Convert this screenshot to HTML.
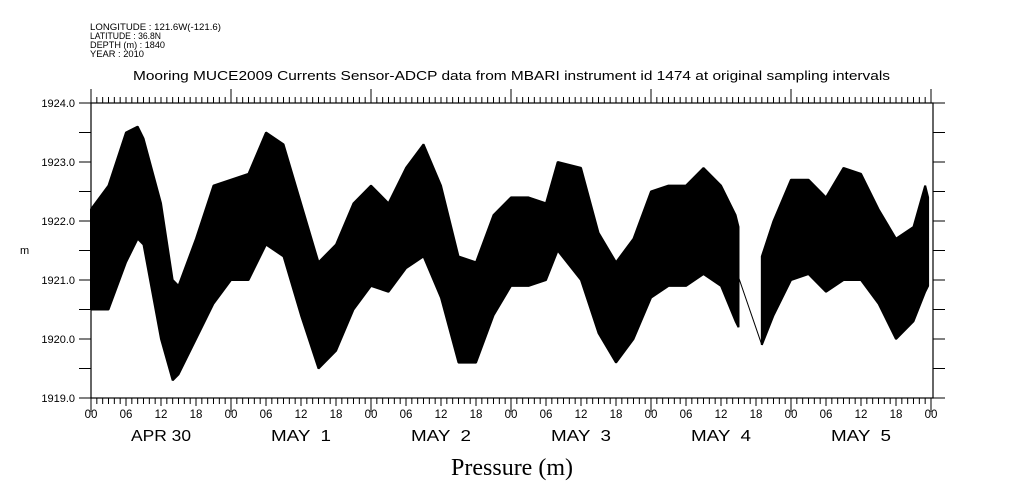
<!DOCTYPE html>
<html><head><meta charset="utf-8"><style>
body{margin:0;background:#fff}
svg{display:block;font-family:"Liberation Sans",sans-serif}
</style></head><body>
<svg id="c" width="1009" height="504">
<g font-size="9">
<text x="90" y="30" textLength="131" lengthAdjust="spacingAndGlyphs">LONGITUDE : 121.6W(-121.6)</text>
<text x="90" y="39" textLength="71" lengthAdjust="spacingAndGlyphs">LATITUDE : 36.8N</text>
<text x="90" y="48" textLength="75" lengthAdjust="spacingAndGlyphs">DEPTH (m) : 1840</text>
<text x="90" y="57" textLength="54" lengthAdjust="spacingAndGlyphs">YEAR : 2010</text>
</g>
<text x="133" y="80" font-size="13" textLength="757" lengthAdjust="spacingAndGlyphs">Mooring MUCE2009 Currents Sensor-ADCP data from MBARI instrument id 1474 at original sampling intervals</text>
<text x="20" y="254" font-size="11">m</text>
<text x="512" y="475" font-size="24" font-family="Liberation Serif,serif" text-anchor="middle">Pressure (m)</text>
<g id="plot"></g>
</svg>
<script>
const hours=[0,3,6,8,9,12,14,15,18,21,24,27,30,33,36,39,42,45,48,51,54,57,60,63,66,69,72,75,78,80,84,87,90,93,96,99,102,105,108,110.5,111,null,115,117,120,123,126,129,132,135,138,141,143,143.5];
const topVals=[1922.2,1922.6,1923.5,1923.6,1923.4,1922.3,1921.0,1920.9,1921.7,1922.6,1922.7,1922.8,1923.5,1923.3,1922.3,1921.3,1921.6,1922.3,1922.6,1922.3,1922.9,1923.3,1922.6,1921.4,1921.3,1922.1,1922.4,1922.4,1922.3,1923.0,1922.9,1921.8,1921.3,1921.7,1922.5,1922.6,1922.6,1922.9,1922.6,1922.1,1921.9,null,1921.4,1922.0,1922.7,1922.7,1922.4,1922.9,1922.8,1922.2,1921.7,1921.9,1922.6,1922.4];
const botVals=[1920.5,1920.5,1921.3,1921.7,1921.6,1920.0,1919.3,1919.4,1920.0,1920.6,1921.0,1921.0,1921.6,1921.4,1920.4,1919.5,1919.8,1920.5,1920.9,1920.8,1921.2,1921.4,1920.7,1919.6,1919.6,1920.4,1920.9,1920.9,1921.0,1921.5,1921.0,1920.1,1919.6,1920.0,1920.7,1920.9,1920.9,1921.1,1920.9,1920.3,1920.2,null,1919.9,1920.4,1921.0,1921.1,1920.8,1921.0,1921.0,1920.6,1920.0,1920.3,1920.8,1920.9];
const yTicks=[1919,1920,1921,1922,1923,1924];
const hourLabels=["00","06","12","18"];
const dayLabels=["APR 30","MAY  1","MAY  2","MAY  3","MAY  4","MAY  5"];
const X0=91,X1=933,Y0=103,Y1=398;
const x=h=>X0+h*35/6;
const y=v=>Y1-(v-1919)*(Y1-Y0)/5;
const NS="http://www.w3.org/2000/svg";
const g=document.getElementById('plot');
function mk(t,a,p){const e=document.createElementNS(NS,t);for(const k in a)e.setAttribute(k,a[k]);(p||g).appendChild(e);return e;}
let segs=[[]];
hours.forEach((h,i)=>{if(h===null){segs.push([]);}else segs[segs.length-1].push(i);});
segs.forEach((s,k)=>{
 const pts=s.map(i=>x(hours[i])+','+y(topVals[i])).concat(s.slice().reverse().map(i=>x(hours[i])+','+y(botVals[i])));
 const p=mk('polygon',{points:pts.join(' '),fill:'#000',stroke:'#000','stroke-width':2,'stroke-linejoin':'bevel'});
 
 
});
const gi=hours.indexOf(null);
const gl=mk('line',{x1:x(hours[gi-1]),y1:y((topVals[gi-1]+botVals[gi-1])/2),x2:x(hours[gi+1]),y2:y(botVals[gi+1]),stroke:'#000','stroke-width':1});


const fr=mk('rect',{x:X0,y:Y0,width:X1-X0,height:Y1-Y0,fill:'none',stroke:'#000','stroke-width':1.2});


for(let v=1919;v<=1924.001;v+=0.5){
 const yy=y(v);
 mk('line',{x1:X0-12,y1:yy,x2:X0,y2:yy,stroke:'#000'});
 mk('line',{x1:X1,y1:yy,x2:X1+12,y2:yy,stroke:'#000'});
}
yTicks.forEach(v=>{
 const t=mk('text',{x:75,y:y(v)+4,'font-size':11,'text-anchor':'end'});
 t.textContent=v.toFixed(1);
 
 
});
for(let h=0;h<=144;h++){
 const xx=x(h);const day=h%24===0;const six=h%6===0;
 mk('line',{x1:xx,y1:Y0,x2:xx,y2:Y0-(day?14:6),stroke:'#000'});
 mk('line',{x1:xx,y1:Y1,x2:xx,y2:Y1+(day?14:(six?8:6)),stroke:'#000'});
 if(six){
  const t=mk('text',{x:xx,y:418,'font-size':11.5,'text-anchor':'middle'});
  t.textContent=hourLabels[(h/6)%4];
  
  
 }
}
dayLabels.forEach((d,i)=>{
 const t=mk('text',{x:x(i*24+12),y:441,'font-size':16,'text-anchor':'middle','textLength':60,'lengthAdjust':'spacingAndGlyphs'});
 t.style.whiteSpace='pre';
 t.textContent=d;
 
 
});
</script>
</body></html>
